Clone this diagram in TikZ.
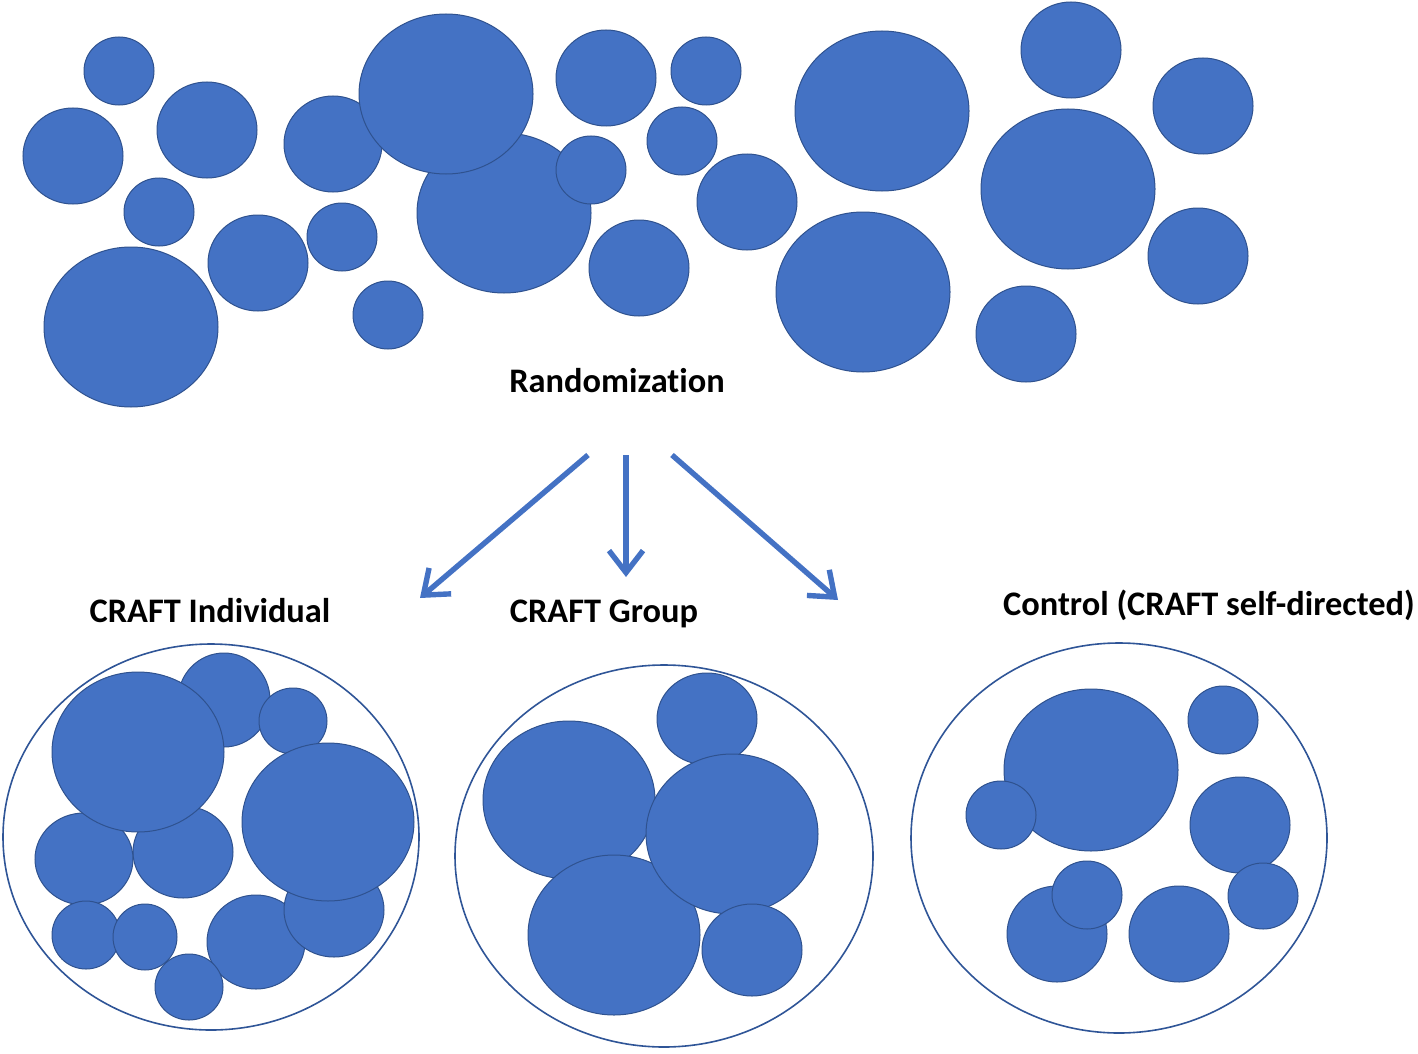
\documentclass[tikz,border=0pt]{standalone}
\usepackage{fontspec}
\setmainfont{Carlito}[Ligatures=NoCommon, RawFeature={-liga}]
\usetikzlibrary{arrows.meta}
\definecolor{blobfill}{HTML}{4472C4}
\definecolor{blobline}{HTML}{2F528F}
\definecolor{ringline}{HTML}{2F5597}
\tikzset{
  blob/.style={fill=blobfill, draw=blobline, line width=0.5pt},
  ring/.style={draw=ringline, line width=0.8pt},
  lbl/.style={font=\bfseries\fontsize{17.2}{20}\selectfont, text=black, inner sep=0pt},
  splitarrow/.style={draw=blobfill, line width=2.7pt, -{Straight Barb[length=11pt, width=17pt]}}
}
\newcommand\blob[4]{\draw[blob] (#1,#2) ellipse [x radius=#3*0.5pt, y radius=#4*0.5pt];}
\newcommand\ring[4]{\draw[ring] (#1,#2) ellipse [x radius=#3*0.5pt, y radius=#4*0.5pt];}
\begin{document}
\begin{tikzpicture}[x=0.5pt, y=-0.5pt]
\useasboundingbox (0,0) rectangle (1418,1054);
% ---------- top population ----------
\blob{119}{71}{35}{34}
\blob{73}{156}{50}{48}
\blob{207}{130}{50}{48}
\blob{159}{212}{35}{34}
\blob{131}{327}{87}{80}
\blob{258}{263}{50}{48}
\blob{333}{144}{49}{48}
\blob{342}{237}{35}{34}
\blob{388}{315}{35}{34}
\blob{504}{213}{87}{80}
\blob{446}{94}{87}{80}
\blob{591}{170}{35}{34}
\blob{606}{78}{50}{48}
\blob{706}{71}{35}{34}
\blob{682}{141}{35}{34}
\blob{639}{268}{50}{48}
\blob{747}{202}{50}{48}
\blob{882}{111}{87}{80}
\blob{863}{292}{87}{80}
\blob{1071}{50}{50}{48}
\blob{1068}{189}{87}{80}
\blob{1203}{106}{50}{48}
\blob{1198}{256}{50}{48}
\blob{1026}{334}{50}{48}
% ---------- label and arrows ----------
\node[lbl] (rand) at (617,381) {Randomization};
\coordinate (sL) at (588,455);
\coordinate (sM) at (626,455);
\coordinate (sR) at (672,455);
\coordinate (eL) at (420,598);
\coordinate (eM) at (626,577);
\coordinate (eR) at (838,600);
\draw[splitarrow] (sL) -- (eL);
\draw[splitarrow] (sM) -- (eM);
\draw[splitarrow] (sR) -- (eR);
\node[lbl] (indiv) at (210,611) {CRAFT Individual};
\node[lbl] (group) at (604,614) {CRAFT Group};
\node[lbl] (ctrl) at (1209,605) {Control (CRAFT self-directed)};
% ---------- group A: CRAFT Individual ----------
\ring{211}{837}{208}{193}
\blob{224}{700}{46}{47}
\blob{293}{721}{34}{33}
\blob{183}{852}{50}{46}
\blob{84}{859}{49}{46}
\blob{138}{752}{86}{80}
\blob{256}{942}{49}{47}
\blob{334}{910}{50}{47}
\blob{328}{822}{86}{79}
\blob{86}{935}{34}{34}
\blob{145}{937}{32}{33}
\blob{189}{987}{34}{33}
% ---------- group B: CRAFT Group ----------
\ring{664}{856}{209}{191}
\blob{707}{719}{50}{46}
\blob{569}{800}{86}{79}
\blob{614}{935}{86}{80}
\blob{732}{834}{86}{80}
\blob{752}{950}{50}{46}
% ---------- group C: Control ----------
\ring{1119}{838}{208}{195}
\blob{1091}{770}{87}{81}
\blob{1001}{815}{35}{34}
\blob{1223}{720}{35}{34}
\blob{1240}{825}{50}{48}
\blob{1263}{896}{35}{33}
\blob{1057}{934}{50}{48}
\blob{1087}{895}{35}{34}
\blob{1179}{934}{50}{48}
\end{tikzpicture}
\end{document}
